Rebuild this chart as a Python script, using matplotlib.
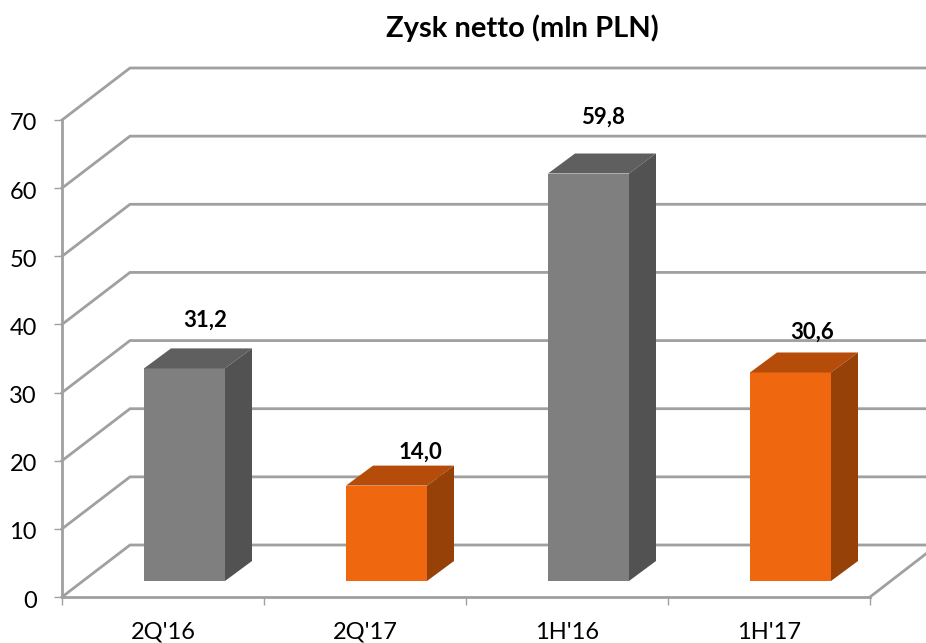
import matplotlib
matplotlib.use('Agg')
import matplotlib.pyplot as plt
from matplotlib.patches import Polygon
from matplotlib.transforms import ScaledTranslation

categories = ["2Q'16", "2Q'17", "1H'16", "1H'17"]
values = [31.2, 14.0, 59.8, 30.6]
value_labels = ['31,2', '14,0', '59,8', '30,6']
y_ticks = [0, 10, 20, 30, 40, 50, 60, 70]
face_colors = ['#7f7f7f', '#ef670f', '#7f7f7f', '#ef670f']
top_colors = ['#5f5f5f', '#b54c0a', '#5f5f5f', '#b54c0a']
side_colors = ['#525252', '#964108', '#525252', '#964108']

W, H = 926, 643
LEFT, RIGHT, BOTTOM, TOP = 62, 870, 597, 120  # axes box in pixels, from top left
GRID = '#a0a0a0'

# hand placed label offsets in pixels from the bar centre and top
label_shift_x = [42, 55, 36, 43]
label_shift_y = [48, 33, 56, 40]

plt.rcParams['font.family'] = ['Lato', 'DejaVu Sans']

fig = plt.figure(figsize=(W / 100, H / 100), dpi=100)
ax = fig.add_axes([LEFT / W, 1 - BOTTOM / H, (RIGHT - LEFT) / W, (BOTTOM - TOP) / H])
ax.set_xlim(-0.5, 3.5)
ax.set_ylim(0, 70)

# pixel sizes of the fake 3d depth, turned into data units
px_x = 4 / (RIGHT - LEFT)
px_y = 70 / (BOTTOM - TOP)
wall_dx, wall_dy = 68 * px_x, 52 * px_y
bar_w = 81 * px_x
bar_off_x, bar_off_y = 21.5 * px_x, 16 * px_y
bar_dx, bar_dy = 27 * px_x, 20 * px_y

# back wall and side wall gridlines
for t in y_ticks:
    ax.plot([-0.5, -0.5 + wall_dx, 3.5 + 57 * px_x], [t, t + wall_dy, t + wall_dy],
            color=GRID, lw=2, clip_on=False, zorder=1, solid_joinstyle='miter')
# floor edge on the right
ax.plot([3.5, 3.5 + 57 * px_x], [0, 44 * px_y], color=GRID, lw=2, clip_on=False, zorder=1)

for i, v in enumerate(values):
    x0 = i - bar_w / 2 + bar_off_x
    x1 = i + bar_w / 2 + bar_off_x
    y0 = bar_off_y
    y1 = bar_off_y + v
    ax.add_patch(Polygon([(x0, y0), (x1, y0), (x1, y1), (x0, y1)], fc=face_colors[i],
                         ec='none', zorder=3, clip_on=False))
    ax.add_patch(Polygon([(x0, y1), (x1, y1), (x1 + bar_dx, y1 + bar_dy), (x0 + bar_dx, y1 + bar_dy)],
                         fc=top_colors[i], ec='none', zorder=3, clip_on=False))
    ax.add_patch(Polygon([(x1, y0), (x1 + bar_dx, y0 + bar_dy), (x1 + bar_dx, y1 + bar_dy), (x1, y1)],
                         fc=side_colors[i], ec='none', zorder=3, clip_on=False))
    ax.text(i + label_shift_x[i] * px_x, y1 + label_shift_y[i] * px_y, value_labels[i],
            ha='center', va='center', fontsize=16, fontweight='bold', color='black', zorder=5)

for s in ['top', 'right']:
    ax.spines[s].set_visible(False)
for s in ['left', 'bottom']:
    ax.spines[s].set_color(GRID)
    ax.spines[s].set_linewidth(2)

ax.set_yticks(y_ticks)
ax.set_xticks([-0.5, 0.5, 1.5, 2.5, 3.5])
ax.set_xticklabels([])
ax.set_xticks(range(4), labels=categories, minor=True)
ax.tick_params(axis='y', labelsize=17, length=6, width=1, color=GRID, pad=12, labelcolor='black')
ax.tick_params(axis='x', which='major', length=6, width=1, color=GRID)
ax.tick_params(axis='x', which='minor', length=0, labelsize=17, pad=18, labelcolor='black')

# y labels sit a bit lower than the ticks in the original
nudge = ScaledTranslation(0, -2 / 100, fig.dpi_scale_trans)
for lab in ax.get_yticklabels():
    lab.set_transform(lab.get_transform() + nudge)

fig.text(522 / W, 1 - 28 / H, 'Zysk netto (mln PLN)', ha='center', va='center',
         fontsize=21, fontweight='bold', color='black')

fig.savefig('out.png', dpi=100, facecolor='white')
